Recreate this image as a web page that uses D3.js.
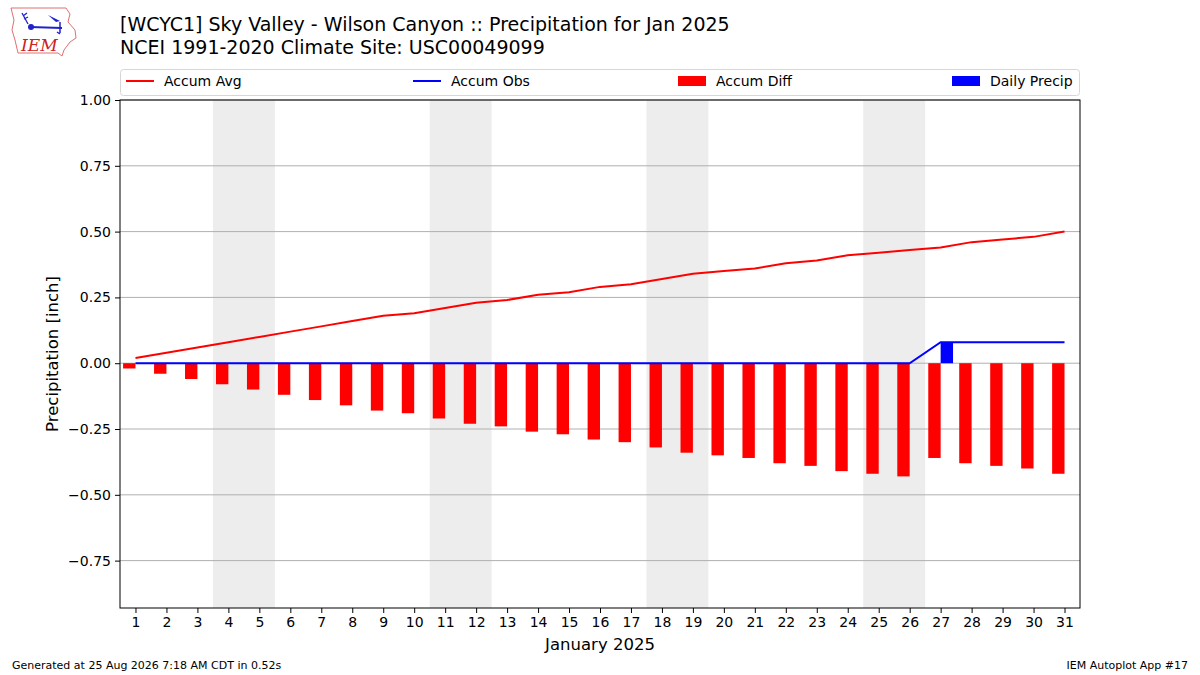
<!DOCTYPE html>
<html>
<head>
<meta charset="utf-8">
<script src="https://cdn.jsdelivr.net/npm/d3@7"></script>
<style>
  body { margin: 0; background: #fff; }
  svg { font-family: "DejaVu Sans", sans-serif; }
</style>
</head>
<body>
<div id="chart"></div>
<script>
// days of Jan 2025
var days = d3.range(1, 32);
var accumAvg = [0.02, 0.04, 0.06, 0.08, 0.10, 0.12, 0.14, 0.16, 0.18, 0.19,
                0.21, 0.23, 0.24, 0.26, 0.27, 0.29, 0.30, 0.32, 0.34, 0.35,
                0.36, 0.38, 0.39, 0.41, 0.42, 0.43, 0.44, 0.46, 0.47, 0.48, 0.50];
var accumObs = [0, 0, 0, 0, 0, 0, 0, 0, 0, 0,
                0, 0, 0, 0, 0, 0, 0, 0, 0, 0,
                0, 0, 0, 0, 0, 0, 0.08, 0.08, 0.08, 0.08, 0.08];
var accumDiff = [-0.02, -0.04, -0.06, -0.08, -0.10, -0.12, -0.14, -0.16, -0.18, -0.19,
                 -0.21, -0.23, -0.24, -0.26, -0.27, -0.29, -0.30, -0.32, -0.34, -0.35,
                 -0.36, -0.38, -0.39, -0.41, -0.42, -0.43, -0.36, -0.38, -0.39, -0.40, -0.42];
var dailyPrecip = [0, 0, 0, 0, 0, 0, 0, 0, 0, 0,
                   0, 0, 0, 0, 0, 0, 0, 0, 0, 0,
                   0, 0, 0, 0, 0, 0, 0.08, 0, 0, 0, 0];
// weekend spans (Sat-Sun)
var weekends = [[4, 5], [11, 12], [18, 19], [25, 26]];
var yTicks = [-0.75, -0.50, -0.25, 0.00, 0.25, 0.50, 0.75, 1.00];
var legendItems = [
  {label: "Accum Avg", type: "line", color: "red", x: 126},
  {label: "Accum Obs", type: "line", color: "blue", x: 413},
  {label: "Accum Diff", type: "rect", color: "red", x: 678},
  {label: "Daily Precip", type: "rect", color: "blue", x: 952}
];

var W = 1200, H = 675;
var pLeft = 120, pRight = 1080, pTop = 100, pBottom = 608;

var svg = d3.select("#chart").append("svg")
    .attr("width", W).attr("height", H);

var x = d3.scaleLinear().domain([0.5, 31.5]).range([pLeft, pRight]);
var y = d3.scaleLinear().domain([-0.93, 1.0]).range([pBottom, pTop]);

// weekend shading
svg.selectAll("rect.wk").data(weekends).enter()
    .append("rect")
    .attr("class", "wk")
    .attr("x", function(d) { return x(d[0] - 0.5); })
    .attr("width", function(d) { return x(d[1] + 0.5) - x(d[0] - 0.5); })
    .attr("y", pTop).attr("height", pBottom - pTop)
    .attr("fill", "#ededed");

// grid
svg.selectAll("line.grid").data(yTicks).enter()
    .append("line")
    .attr("x1", pLeft).attr("x2", pRight)
    .attr("y1", function(d) { return y(d); })
    .attr("y2", function(d) { return y(d); })
    .attr("stroke", "#b0b0b0").attr("stroke-width", 1);

// diff bars (left of day)
svg.selectAll("rect.diff").data(days).enter()
    .append("rect")
    .attr("x", function(d) { return x(d - 0.4); })
    .attr("width", function(d) { return x(d) - x(d - 0.4); })
    .attr("y", function(d, i) { return y(Math.max(0, accumDiff[i])); })
    .attr("height", function(d, i) { return Math.abs(y(accumDiff[i]) - y(0)); })
    .attr("fill", "red");

// daily precip bars (right of day)
svg.selectAll("rect.daily").data(days.filter(function(d, i) { return dailyPrecip[i] > 0; })).enter()
    .append("rect")
    .attr("x", function(d) { return x(d); })
    .attr("width", function(d) { return x(d + 0.4) - x(d); })
    .attr("y", function(d) { return y(dailyPrecip[d - 1]); })
    .attr("height", function(d) { return y(0) - y(dailyPrecip[d - 1]); })
    .attr("fill", "blue");

var line = d3.line()
    .x(function(d) { return x(d[0]); })
    .y(function(d) { return y(d[1]); });

svg.append("path")
    .attr("d", line(days.map(function(d, i) { return [d, accumAvg[i]]; })))
    .attr("fill", "none").attr("stroke", "red").attr("stroke-width", 2);
svg.append("path")
    .attr("d", line(days.map(function(d, i) { return [d, accumObs[i]]; })))
    .attr("fill", "none").attr("stroke", "blue").attr("stroke-width", 2);

// axes
var yAxis = d3.axisLeft(y).tickValues(yTicks).tickSizeOuter(0).tickSize(5).tickPadding(4)
    .tickFormat(function(d) { return d3.format(".2f")(d).replace("-", "\u2212"); });
var gy = svg.append("g").attr("transform", "translate(" + pLeft + ",0)").call(yAxis);

var xAxis = d3.axisBottom(x).tickValues(days).tickSizeOuter(0).tickSize(5).tickPadding(4)
    .tickFormat(d3.format("d"));
var gx = svg.append("g").attr("transform", "translate(0," + pBottom + ")").call(xAxis);

[gx, gy].forEach(function(g) {
  g.select(".domain").remove();
  g.selectAll("text").attr("font-size", "14px").attr("fill", "#000")
    .attr("font-family", "DejaVu Sans, sans-serif");
  g.selectAll("line").attr("stroke", "#000");
});

// frame
svg.append("rect")
    .attr("x", pLeft).attr("y", pTop)
    .attr("width", pRight - pLeft).attr("height", pBottom - pTop)
    .attr("fill", "none").attr("stroke", "#000").attr("stroke-width", 1);

// axis labels
svg.append("text")
    .attr("x", x(16)).attr("y", 650)
    .attr("text-anchor", "middle").attr("font-size", "16.5px")
    .text("January 2025");
svg.append("text")
    .attr("transform", "translate(58," + ((pTop + pBottom) / 2) + ") rotate(-90)")
    .attr("text-anchor", "middle").attr("font-size", "16.5px")
    .text("Precipitation [inch]");

// title
svg.append("text").attr("x", 120).attr("y", 31).attr("font-size", "19px")
    .text("[WCYC1] Sky Valley - Wilson Canyon :: Precipitation for Jan 2025");
svg.append("text").attr("x", 120).attr("y", 54).attr("font-size", "19px")
    .text("NCEI 1991-2020 Climate Site: USC00049099");

// legend
svg.append("rect")
    .attr("x", 120.5).attr("y", 69.5).attr("width", 959).attr("height", 26)
    .attr("rx", 3).attr("fill", "#fff").attr("stroke", "#d6d6d6");
var lg = svg.selectAll("g.leg").data(legendItems).enter()
    .append("g").attr("transform", function(d) { return "translate(" + d.x + ",0)"; });
lg.each(function(d) {
  var g = d3.select(this);
  if (d.type === "line") {
    g.append("line").attr("x1", 0).attr("x2", 28).attr("y1", 81).attr("y2", 81)
      .attr("stroke", d.color).attr("stroke-width", 2);
  } else {
    g.append("rect").attr("x", 0).attr("y", 76).attr("width", 28).attr("height", 10)
      .attr("fill", d.color);
  }
  g.append("text").attr("x", 38).attr("y", 86).attr("font-size", "14px").text(d.label);
});

// footer
svg.append("text").attr("x", 12).attr("y", 669).attr("font-size", "11px")
    .text("Generated at 25 Aug 2026 7:18 AM CDT in 0.52s");
svg.append("text").attr("x", 1188).attr("y", 669).attr("font-size", "11px")
    .attr("text-anchor", "end").text("IEM Autoplot App #17");

// logo (rough)
var logo = svg.append("g");
logo.append("path")
    .attr("d", "M11,8 L66,8 L70,14 L68,22 L75,30 L76,38 L70,42 L64,50 L62,56 L58,53 L18,53 L15,40 L12,30 L14,20 Z")
    .attr("fill", "none").attr("stroke", "#e07070").attr("stroke-width", 1);
logo.append("line").attr("x1", 30).attr("y1", 27).attr("x2", 62).attr("y2", 28)
    .attr("stroke", "#2222cc").attr("stroke-width", 2);
logo.append("circle").attr("cx", 31).attr("cy", 27).attr("r", 3).attr("fill", "#2222cc");
logo.append("path").attr("d", "M22,13 L28,24 M23,16 L27,13 M24,19 L28,17")
    .attr("stroke", "#2222cc").attr("stroke-width", 1.3).attr("fill", "none");
logo.append("path").attr("d", "M48,15 L60,21 L56,22 Z").attr("fill", "#2222cc");
logo.append("path").attr("d", "M60,22 L60,33 M57,32 L60,34").attr("stroke", "#2222cc")
    .attr("stroke-width", 1.5).attr("fill", "none");
logo.append("text").attr("x", 21).attr("y", 51).attr("font-family", "DejaVu Serif, serif")
    .attr("font-style", "italic").attr("font-size", "17px").attr("fill", "#cc2222").text("IEM");
</script>
</body>
</html>
